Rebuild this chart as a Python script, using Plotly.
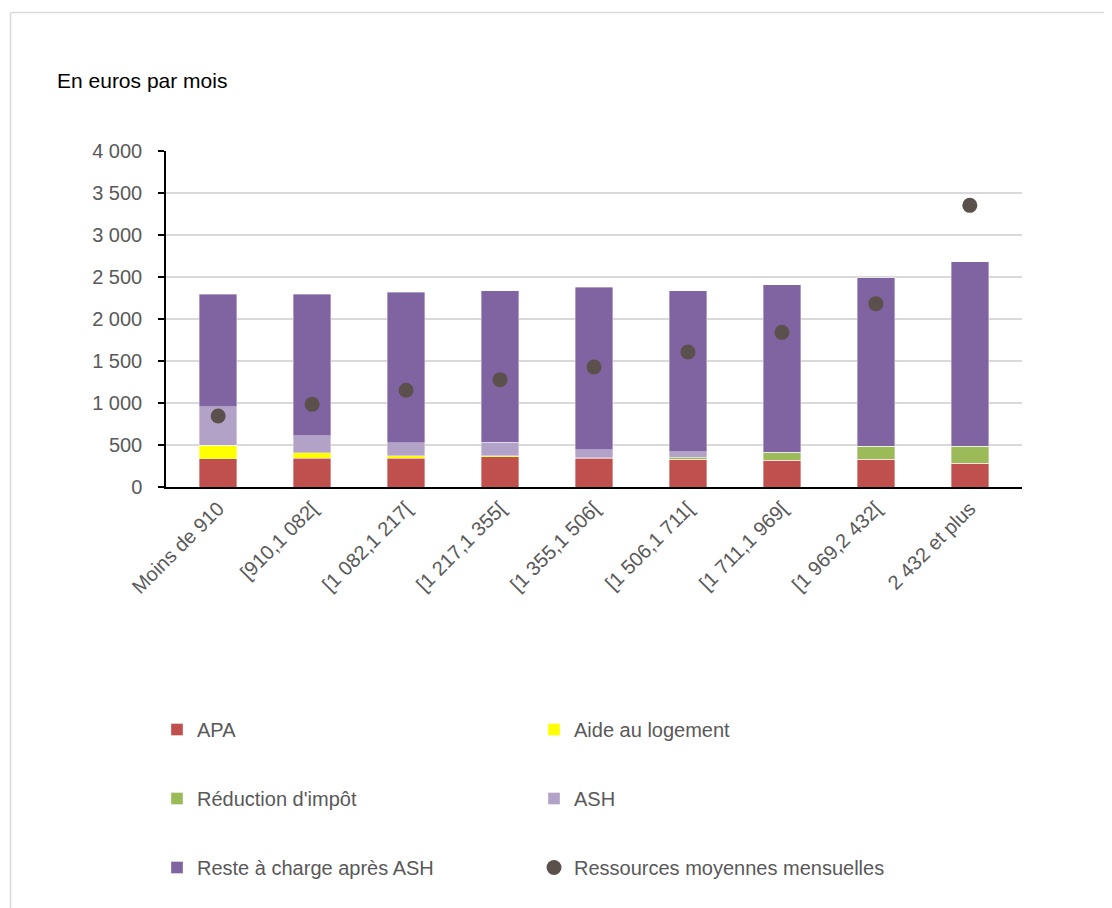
import plotly.graph_objects as go

categories = ["Moins de 910", "[910,1 082[", "[1 082,1 217[", "[1 217,1 355[", "[1 355,1 506[",
              "[1 506,1 711[", "[1 711,1 969[", "[1 969,2 432[", "2 432 et plus"]
apa = [335, 343, 343, 358, 343, 331, 319, 331, 283]
aide_logement = [161, 66, 31, 12, 7, 0, 0, 0, 0]
reduction_impot = [0, 0, 0, 0, 0, 25, 87, 153, 205]
ash = [461, 201, 150, 165, 95, 61, 8, 0, 0]
reste = [1337, 1684, 1797, 1802, 1936, 1920, 1995, 2008, 2191]
ressources = [846, 984, 1151, 1278, 1429, 1607, 1841, 2183, 3353]
y_ticks = [0, 500, 1000, 1500, 2000, 2500, 3000, 3500, 4000]

W, H = 1112, 908
OFF = 8  # page body margin
# plot area in screen coordinates
P_L, P_R, P_T, P_B = 166, 1022, 151, 487
ML, MT = P_L - OFF, P_T - OFF
MR, MB = W - (P_R - OFF), H - (P_B - OFF)
PW, PH = P_R - P_L, P_B - P_T

def px_x(x):
    return (x - P_L) / PW

def px_y(y):
    return (P_B - y) / PH

FONT = "Liberation Sans, Arial, sans-serif"
GREY = "#595959"
edge = dict(color="rgba(255,255,255,0.45)", width=0.8)

fig = go.Figure()
bar_series = [
    ("APA", apa, "#C0504D", "legend", "g1"),
    ("Aide au logement", aide_logement, "#FFFF00", "legend2", "g2"),
    ("Réduction d'impôt", reduction_impot, "#9BBB59", "legend", "g3"),
    ("ASH", ash, "#B3A2C7", "legend2", "g4"),
    ("Reste à charge après ASH", reste, "#8064A2", "legend", "g5"),
]
for name, vals, col, leg, grp in bar_series:
    fig.add_trace(go.Bar(x=categories, y=vals, name=name, marker=dict(color=col, line=edge),
                         legend=leg, legendgroup=grp, width=0.4))
fig.add_trace(go.Scatter(x=categories, y=ressources, name="Ressources moyennes mensuelles",
                         mode="markers", marker=dict(color="#5B504B", size=15),
                         legend="legend2", legendgroup="g6"))

leg_common = dict(orientation="v", traceorder="grouped", tracegroupgap=40,
                  font=dict(family=FONT, size=20, color=GREY), bgcolor="rgba(0,0,0,0)",
                  yanchor="top", xanchor="left", itemclick=False)

fig.update_layout(
    width=W, height=H,
    margin=dict(l=ML, r=MR, t=MT, b=MB, autoexpand=False),
    barmode="stack", bargap=0.6,
    plot_bgcolor="white", paper_bgcolor="white",
    separators=", ",
    font=dict(family=FONT, size=20, color=GREY),
    title=dict(text="En euros par mois", x=(57 - OFF) / W, xanchor="left", xref="container",
               y=1 - (81 - OFF) / H, yanchor="middle", yref="container",
               font=dict(family=FONT, size=21, color="black")),
    showlegend=True,
    legend=dict(x=px_x(157), y=px_y(710), **leg_common),
    legend2=dict(x=px_x(534), y=px_y(710), **leg_common),
    xaxis=dict(showline=True, linecolor="black", linewidth=2, ticks="", tickangle=-45,
               tickfont=dict(family=FONT, size=20, color=GREY), showgrid=False),
    yaxis=dict(range=[0, 4000], tickvals=y_ticks, tickformat=",d", showline=True,
               linecolor="black", linewidth=1.5, ticks="outside", ticklen=6,
               tickcolor="black", tickwidth=1.5, gridcolor="#D9D9D9", gridwidth=1.5,
               zeroline=False, tickfont=dict(family=FONT, size=20, color=GREY),
               ticklabelstandoff=12),
    shapes=[
        dict(type="line", xref="paper", yref="paper", x0=px_x(10.5), x1=px_x(W + 20),
             y0=px_y(12.5), y1=px_y(12.5), line=dict(color="#D9D9D9", width=1.5)),
        dict(type="line", xref="paper", yref="paper", x0=px_x(10.5), x1=px_x(10.5),
             y0=px_y(12.5), y1=px_y(H + 20), line=dict(color="#D9D9D9", width=1.5)),
    ],
)

fig.write_html("out.html")
